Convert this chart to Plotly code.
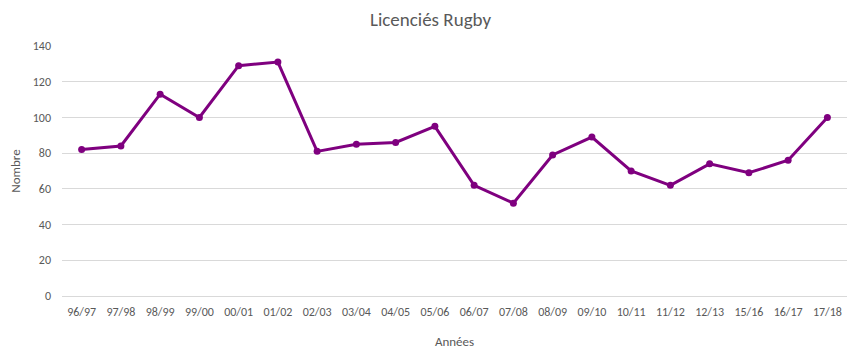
import plotly.graph_objects as go

years = ["96/97", "97/98", "98/99", "99/00", "00/01", "01/02", "02/03", "03/04", "04/05", "05/06",
         "06/07", "07/08", "08/09", "09/10", "10/11", "11/12", "12/13", "15/16", "16/17", "17/18"]
licencies = [82, 84, 113, 100, 129, 131, 81, 85, 86, 95,
             62, 52, 79, 89, 70, 62, 74, 69, 76, 100]
y_ticks = [0, 20, 40, 60, 80, 100, 120, 140]

FONT = "Calibri, Carlito, Lato, 'Liberation Sans', sans-serif"
GREY = "#595959"

fig = go.Figure(go.Scatter(
    x=years, y=licencies, mode="lines+markers",
    line=dict(color="#7F007F", width=3),
    marker=dict(color="#7F007F", size=7),
    hoverinfo="x+y",
))

fig.update_layout(
    width=861, height=355,
    margin=dict(l=62, r=14, t=46, b=59),
    paper_bgcolor="white", plot_bgcolor="white",
    font=dict(family=FONT, color=GREY, size=12),
    title=dict(text="Licenciés Rugby", x=0.5, xanchor="center", y=1 - 19 / 355, yanchor="middle",
               font=dict(size=19, color=GREY, family=FONT)),
    showlegend=False,
    xaxis=dict(
        type="category", showgrid=False, zeroline=False, showline=False, automargin=False,
        ticks="", tickfont=dict(size=12, color=GREY), ticklabelstandoff=7,
        title=dict(text="Années", font=dict(size=13, color=GREY), standoff=18),
        range=[-0.5, len(years) - 0.5],
    ),
    yaxis=dict(
        range=[0, 140], tickvals=y_ticks, showgrid=True, gridcolor="#D9D9D9", gridwidth=1,
        zeroline=True, zerolinecolor="#D9D9D9", zerolinewidth=1, showline=False, ticks="",
        automargin=False,
        tickfont=dict(size=12, color=GREY), ticklabelstandoff=10,
        title=dict(text="Nombre", font=dict(size=13, color=GREY), standoff=9),
    ),
)

fig.write_html("out.html", config={"displayModeBar": False},
               post_script="document.body.style.margin='0';")
